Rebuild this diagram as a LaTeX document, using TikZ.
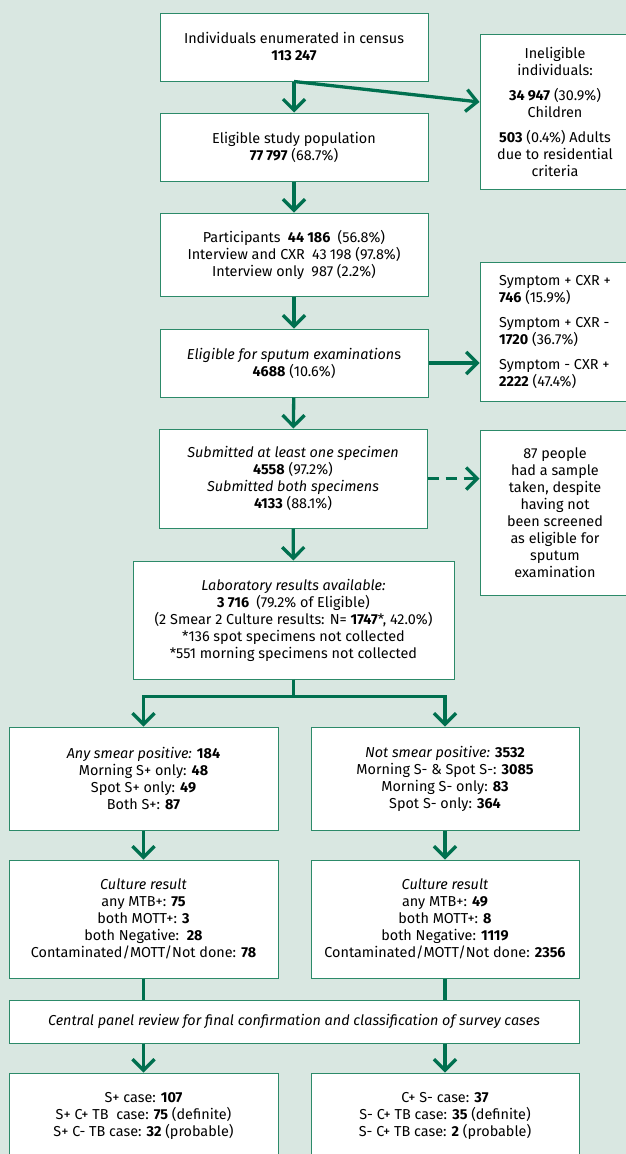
\documentclass[tikz,border=0pt]{standalone}
\usepackage{fontspec}
\setmainfont{Fira Sans}
\usetikzlibrary{arrows.meta}
\definecolor{bg}{HTML}{D9E7E1}
\definecolor{arrowgreen}{HTML}{00704F}
\definecolor{boxgreen}{HTML}{2C8A69}
\newcommand{\nsp}{\hspace{0.22em}}
\begin{document}
\begin{tikzpicture}[x=1pt,y=-1pt,
  box/.style={draw=boxgreen, line width=1pt, fill=white, align=center, inner sep=0pt,
    font=\fontsize{14.4}{17}\selectfont},
  arr/.style={draw=arrowgreen, line width=3.3pt, -{Straight Barb[length=11pt,width=22pt]}},
  link/.style={draw=arrowgreen, line width=3.3pt}]
\fill[bg] (0,0) rectangle (626,1154);
\useasboundingbox (0,0) rectangle (626,1154);

\node[box, minimum width=268pt, minimum height=68pt] (census) at (294,47)
  {Individuals enumerated in census\\ \textbf{113\nsp247}};
\node[box, minimum width=268pt, minimum height=68pt] (elig) at (294,147)
  {Eligible study population\\ \textbf{77\nsp797} (68.7\%)};
\node[box, minimum width=150pt, minimum height=155pt] (inelig) at (555,111.5)
  {Ineligible\\ individuals:\\[8pt] \textbf{34\nsp947} (30.9\%)\\ Children\\[8pt] \textbf{503} (0.4\%) Adults\\ due to residential\\ criteria};
\node[box, minimum width=268pt, minimum height=83pt] (part) at (294,254.5)
  {Participants\enspace\textbf{44\nsp186}\enspace(56.8\%)\\ Interview and CXR\enspace 43\nsp198 (97.8\%)\\ Interview only\enspace 987 (2.2\%)};
\node[box, minimum width=268pt, minimum height=68pt] (sput) at (294,363)
  {\textit{Eligible for sputum examination}s\\ \textbf{4688} (10.6\%)};
\node[box, align=left, minimum width=150pt, minimum height=139pt] (sympt) at (555,331.5)
  {Symptom + CXR +\\ \textbf{746} (15.9\%)\\[8pt] Symptom + CXR -\\ \textbf{1720} (36.7\%)\\[8pt] Symptom - CXR +\\ \textbf{2222} (47.4\%)};
\node[box, minimum width=268pt, minimum height=99pt] (subm) at (293,478.5)
  {\textit{Submitted at least one specimen}\\ \textbf{4558} (97.2\%)\\ \textit{Submitted both specimens}\\ \textbf{4133} (88.1\%)};
\node[box, minimum width=150pt, minimum height=165pt] (people) at (555,512.5)
  {87 people\\ had a sample\\ taken, despite\\ having not\\ been screened\\ as eligible for\\ sputum\\ examination};
\node[box, minimum width=321pt, minimum height=118pt] (lab) at (293.5,620)
  {\textit{Laboratory results available:}\\ \textbf{3\nsp716}\enspace(79.2\% of Eligible)\\ (2 Smear 2 Culture results: N= \textbf{1747}*, 42.0\%)\\ *136 spot specimens not collected\\ *551 morning specimens not collected};
\node[box, minimum width=269pt, minimum height=103pt] (smearL) at (143.5,778.5)
  {\textit{Any smear positive:} \textbf{184}\\ Morning S+ only: \textbf{48}\\ Spot S+ only: \textbf{49}\\ Both S+: \textbf{87}};
\node[box, minimum width=268pt, minimum height=103pt] (smearR) at (445,778.5)
  {\textit{Not smear positive:} \textbf{3532}\\ Morning S- \& Spot S-: \textbf{3085}\\ Morning S- only: \textbf{83}\\ Spot S- only: \textbf{364}};
\node[box, minimum width=269pt, minimum height=118pt] (cultL) at (143.5,919)
  {\textit{Culture result}\\ any MTB+: \textbf{75}\\ both MOTT+: \textbf{3}\\ both Negative:\ \ \textbf{28}\\ Contaminated/MOTT/Not done: \textbf{78}};
\node[box, minimum width=268pt, minimum height=118pt] (cultR) at (445,919)
  {\textit{Culture result}\\ any MTB+: \textbf{49}\\ both MOTT+: \textbf{8}\\ both Negative: \textbf{1119}\\ Contaminated/MOTT/Not done: \textbf{2356}};
\node[box, minimum width=570pt, minimum height=43pt] (panel) at (294,1021.5)
  {\textit{Central panel review for final confirmation and classification of survey cases}};
\node[box, minimum width=269pt, minimum height=86pt] (caseL) at (143.5,1116)
  {S+ case: \textbf{107}\\ S+ C+ TB\ \ case: \textbf{75} (definite)\\ S+ C- TB case: \textbf{32} (probable)};
\node[box, minimum width=268pt, minimum height=86pt] (caseR) at (445,1116)
  {C+ S- case: \textbf{37}\\ S- C+ TB case: \textbf{35} (definite)\\ S- C+ TB case: \textbf{2} (probable)};

\draw[arr] (census) -- (elig);
\draw[arr] (census.south) -- ([yshift=9.5pt]inelig.west);
\draw[arr] (elig) -- (part);
\draw[arr] (part) -- (sput);
\draw[arr] (sput.east) -- (sput.east -| sympt.west);
\draw[arr] (sput) -- (subm);
\draw[arr, dash pattern=on 11pt off 7pt] (subm.east) -- (subm.east -| people.west);
\draw[arr] (subm) -- (lab);
\draw[arr] (lab.south) -- ++(0,17) -| (smearL.north);
\draw[arr] (lab.south) -- ++(0,17) -| (smearR.north);
\draw[arr] (smearL) -- (cultL);
\draw[arr] (smearR) -- (cultR);
\draw[link] (cultL.south) -- (cultL.south |- panel.north);
\draw[link] (cultR.south) -- (cultR.south |- panel.north);
\draw[arr] (panel.south -| caseL.north) -- (caseL.north);
\draw[arr] (panel.south -| caseR.north) -- (caseR.north);
\end{tikzpicture}
\end{document}
